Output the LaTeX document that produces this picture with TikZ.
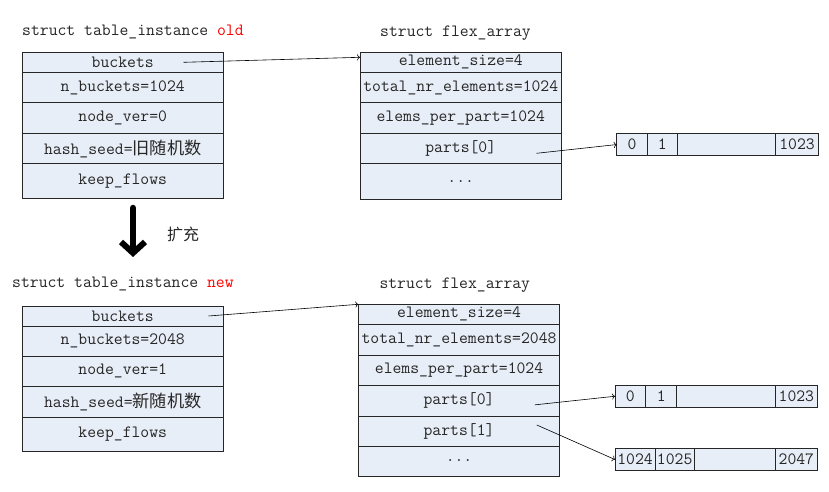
\documentclass[tikz,border=0pt]{standalone}
\usepackage{fontspec}
\setmonofont{Latin Modern Mono}
\newfontfamily\cjk{Noto Sans CJK SC}
\usetikzlibrary{positioning,arrows.meta}

\definecolor{cellblue}{HTML}{E8EEF7}
\definecolor{inkgray}{HTML}{262626}

\tikzset{
    field/.style={draw=black!85, line width=0.8pt, fill=cellblue,
        inner sep=0pt, outer sep=0pt, minimum width=201.5pt, minimum height=#1,
        font=\ttfamily\fontsize{17.2}{18}\selectfont, text=inkgray},
    slot/.style={field=22.5pt, minimum width=#1},
    title/.style={anchor=west, inner sep=0pt,
        font=\ttfamily\fontsize{17.2}{18}\selectfont, text=inkgray},
    ptr/.style={->, line width=0.6pt, black}
}

\begin{document}
\begin{tikzpicture}[x=1pt, y=-1pt]

    % Fix the picture size
    \useasboundingbox (0,0) rectangle (829,492);

    % Titles of the four structs
    \node[title] (toldtitle) at (22,31.7) {struct table\_instance \textcolor{red}{old}};
    \node[title] (foldtitle) at (380,32.7) {struct flex\_array};
    \node[title] (tnewtitle) at (12,284) {struct table\_instance \textcolor{red}{new}};
    \node[title] (fnewtitle) at (379.3,285) {struct flex\_array};

    % Old table_instance
    \node[field=20pt, anchor=north west] (old1) at (22,52.3) {buckets};
    \node[field=30.4pt, below=0pt of old1] (old2) {n\_buckets=1024};
    \node[field=30.6pt, below=0pt of old2] (old3) {node\_ver=0};
    \node[field=30.4pt, below=0pt of old3] (old4) {hash\_seed={\cjk 旧随机数}};
    \node[field=35pt, below=0pt of old4] (old5) {keep\_flows};

    % Old flex_array
    \node[field=20pt, anchor=north west] (fold1) at (360,52.3) {element\_size=4};
    \node[field=30.4pt, below=0pt of fold1] (fold2) {total\_nr\_elements=1024};
    \node[field=30.6pt, below=0pt of fold2] (fold3) {elems\_per\_part=1024};
    \node[field=30.4pt, below=0pt of fold3] (fold4) {parts[0]};
    \node[field=35.6pt, below=0pt of fold4] (fold5) {...};

    % Old part 0
    \node[slot=30.6pt, anchor=north west] (aold0) at (616.7,133.3) {0};
    \node[slot=30pt, right=0pt of aold0] (aold1) {1};
    \node[slot=98.4pt, right=0pt of aold1] (aold2) {};
    \node[slot=42.6pt, right=0pt of aold2] (aold3) {1023};

    % Pointers of the old table
    \draw[ptr] ([xshift=-40pt]old1.east) -- ([yshift=5pt]fold1.west);
    \draw[ptr] ([xshift=-25pt,yshift=-4.8pt]fold4.east) -- (aold0.west);

    % Growing step
    \coordinate (growtop) at (133,208);
    \coordinate (growend) at (133,257);
    \draw[line width=6.5pt, line cap=round,
        -{Straight Barb[length=11pt, width=24pt, line width=6pt]}] (growtop) -- (growend);
    \node[font=\cjk\fontsize{16}{18}\selectfont, text=inkgray] (growlabel) at (183,234) {扩充};

    % New table_instance
    \node[field=20pt, anchor=north west] (new1) at (22,306) {buckets};
    \node[field=30pt, below=0pt of new1] (new2) {n\_buckets=2048};
    \node[field=30.7pt, below=0pt of new2] (new3) {node\_ver=1};
    \node[field=30.6pt, below=0pt of new3] (new4) {hash\_seed={\cjk 新随机数}};
    \node[field=34.4pt, below=0pt of new4] (new5) {keep\_flows};

    % New flex_array
    \node[field=20pt, anchor=north west] (fnew1) at (358.3,304.3) {element\_size=4};
    \node[field=30.7pt, below=0pt of fnew1] (fnew2) {total\_nr\_elements=2048};
    \node[field=30.7pt, below=0pt of fnew2] (fnew3) {elems\_per\_part=1024};
    \node[field=30.3pt, below=0pt of fnew3] (fnew4) {parts[0]};
    \node[field=30pt, below=0pt of fnew4] (fnew5) {parts[1]};
    \node[field=30pt, below=0pt of fnew5] (fnew6) {...};

    % New part 0
    \node[slot=30.7pt, anchor=north west] (anew0) at (615,385) {0};
    \node[slot=31pt, right=0pt of anew0] (anew1) {1};
    \node[slot=98.3pt, right=0pt of anew1] (anew2) {};
    \node[slot=42.7pt, right=0pt of anew2] (anew3) {1023};

    % New part 1
    \node[slot=40pt, anchor=north west] (bnew0) at (615,448.3) {1024};
    \node[slot=39.3pt, right=0pt of bnew0] (bnew1) {1025};
    \node[slot=80.7pt, right=0pt of bnew1] (bnew2) {};
    \node[slot=42.7pt, right=0pt of bnew2] (bnew3) {2047};

    % Pointers of the new table
    \draw[ptr] ([xshift=-15pt]new1.east) -- (fnew1.north west);
    \draw[ptr] ([xshift=-25pt,yshift=-4pt]fnew4.east) -- (anew0.west);
    \draw[ptr] ([xshift=-23pt,yshift=6pt]fnew5.east) -- (bnew0.west);

\end{tikzpicture}
\end{document}
